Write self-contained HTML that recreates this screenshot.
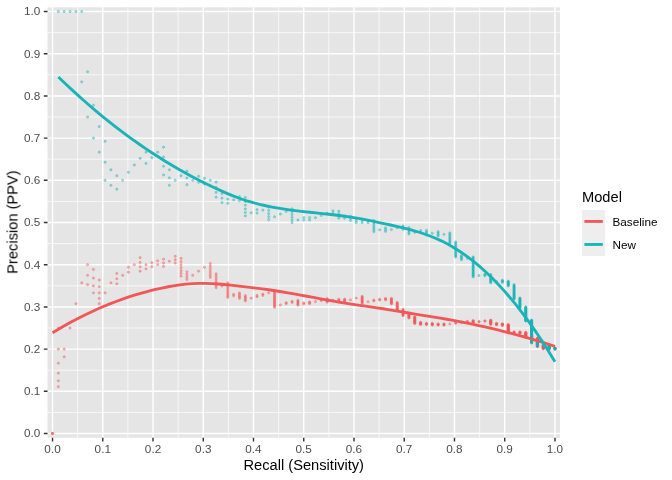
<!DOCTYPE html>
<html><head><meta charset="utf-8"><title>PR curve</title>
<style>html,body{margin:0;padding:0;background:#fff;}svg{display:block;}text{font-family:"Liberation Sans",sans-serif;}</style></head><body>
<svg width="672" height="480" viewBox="0 0 672 480">
<rect x="0" y="0" width="672" height="480" fill="#ffffff"/>
<rect x="47.5" y="7.3" width="512.5" height="430.45" fill="#E5E5E5"/>
<filter id="tf" x="-5%" y="-5%" width="110%" height="110%" color-interpolation-filters="sRGB"><feOffset dx="0" dy="0"/></filter>
<clipPath id="pc"><rect x="47.5" y="7.3" width="512.5" height="430.45"/></clipPath>
<path d="M77.65 7.3V437.75M47.5 412.43H560.0M127.89 7.3V437.75M47.5 370.23H560.0M178.14 7.3V437.75M47.5 328.03H560.0M228.38 7.3V437.75M47.5 285.83H560.0M278.63 7.3V437.75M47.5 243.63H560.0M328.87 7.3V437.75M47.5 201.42H560.0M379.12 7.3V437.75M47.5 159.22H560.0M429.36 7.3V437.75M47.5 117.02H560.0M479.61 7.3V437.75M47.5 74.82H560.0M529.85 7.3V437.75M47.5 32.62H560.0" stroke="#fff" stroke-width="0.71" fill="none"/>
<path d="M52.52 7.3V437.75M47.5 433.53H560.0M102.77 7.3V437.75M47.5 391.33H560.0M153.01 7.3V437.75M47.5 349.13H560.0M203.26 7.3V437.75M47.5 306.93H560.0M253.50 7.3V437.75M47.5 264.73H560.0M303.75 7.3V437.75M47.5 222.52H560.0M354.00 7.3V437.75M47.5 180.32H560.0M404.24 7.3V437.75M47.5 138.12H560.0M454.49 7.3V437.75M47.5 95.92H560.0M504.73 7.3V437.75M47.5 53.72H560.0M554.98 7.3V437.75M47.5 11.52H560.0" stroke="#fff" stroke-width="1.42" fill="none"/>
<g clip-path="url(#pc)">
<g fill="#F25757" fill-opacity="0.4" stroke="#F25757" stroke-opacity="0.4" stroke-width="0.92">
<circle cx="52.52" cy="433.53" r="1.12"/><circle cx="52.52" cy="433.53" r="1.12"/><circle cx="52.52" cy="433.53" r="1.12"/><circle cx="58.37" cy="328.03" r="1.12"/><circle cx="58.37" cy="349.13" r="1.12"/><circle cx="58.37" cy="363.19" r="1.12"/><circle cx="58.37" cy="373.24" r="1.12"/><circle cx="58.37" cy="380.78" r="1.12"/><circle cx="58.37" cy="386.64" r="1.12"/><circle cx="64.21" cy="349.13" r="1.12"/><circle cx="64.21" cy="356.80" r="1.12"/><circle cx="70.05" cy="328.03" r="1.12"/><circle cx="75.89" cy="303.68" r="1.12"/><circle cx="81.74" cy="282.81" r="1.12"/><circle cx="87.58" cy="264.73" r="1.12"/><circle cx="87.58" cy="275.28" r="1.12"/><circle cx="87.58" cy="284.59" r="1.12"/><circle cx="93.42" cy="269.41" r="1.12"/><circle cx="93.42" cy="278.05" r="1.12"/><circle cx="93.42" cy="285.83" r="1.12"/><circle cx="93.42" cy="292.86" r="1.12"/><circle cx="99.26" cy="280.07" r="1.12"/><circle cx="99.26" cy="286.74" r="1.12"/><circle cx="99.26" cy="292.86" r="1.12"/><circle cx="99.26" cy="298.49" r="1.12"/><circle cx="99.26" cy="303.68" r="1.12"/><circle cx="105.11" cy="292.86" r="1.12"/><circle cx="110.95" cy="282.81" r="1.12"/><circle cx="116.79" cy="273.46" r="1.12"/><circle cx="116.79" cy="278.79" r="1.12"/><circle cx="116.79" cy="283.78" r="1.12"/><circle cx="122.63" cy="275.28" r="1.12"/><circle cx="128.48" cy="267.28" r="1.12"/><circle cx="128.48" cy="272.17" r="1.12"/><circle cx="134.32" cy="264.73" r="1.12"/><circle cx="140.16" cy="257.69" r="1.12"/><circle cx="140.16" cy="262.44" r="1.12"/><circle cx="140.16" cy="266.95" r="1.12"/><circle cx="140.16" cy="271.22" r="1.12"/><circle cx="146.00" cy="264.73" r="1.12"/><circle cx="146.00" cy="268.84" r="1.12"/><circle cx="151.85" cy="262.72" r="1.12"/><circle cx="151.85" cy="266.69" r="1.12"/><circle cx="157.69" cy="260.89" r="1.12"/><circle cx="157.69" cy="264.73" r="1.12"/><circle cx="163.53" cy="259.22" r="1.12"/><circle cx="163.53" cy="262.93" r="1.12"/><circle cx="163.53" cy="266.48" r="1.12"/><circle cx="169.37" cy="261.28" r="1.12"/><circle cx="175.22" cy="256.29" r="1.12"/><circle cx="175.22" cy="259.76" r="1.12"/><circle cx="175.22" cy="263.10" r="1.12"/><circle cx="181.06" cy="258.36" r="1.12"/><circle cx="181.06" cy="261.60" r="1.12"/><circle cx="181.06" cy="264.73" r="1.12"/><circle cx="181.06" cy="267.74" r="1.12"/><circle cx="181.06" cy="270.65" r="1.12"/><circle cx="181.06" cy="273.46" r="1.12"/><circle cx="181.06" cy="276.17" r="1.12"/><circle cx="186.90" cy="271.76" r="1.12"/><circle cx="186.90" cy="274.41" r="1.12"/><circle cx="186.90" cy="276.98" r="1.12"/><circle cx="186.90" cy="279.46" r="1.12"/><circle cx="192.74" cy="275.28" r="1.12"/><circle cx="198.59" cy="271.22" r="1.12"/><circle cx="204.43" cy="267.28" r="1.12"/><circle cx="210.27" cy="263.47" r="1.12"/><circle cx="210.27" cy="265.97" r="1.12"/><circle cx="210.27" cy="268.40" r="1.12"/><circle cx="210.27" cy="270.75" r="1.12"/><circle cx="210.27" cy="273.05" r="1.12"/><circle cx="210.27" cy="275.28" r="1.12"/><circle cx="210.27" cy="277.44" r="1.12"/><circle cx="216.11" cy="273.85" r="1.12"/><circle cx="216.11" cy="275.98" r="1.12"/><circle cx="216.11" cy="278.05" r="1.12"/><circle cx="216.11" cy="280.07" r="1.12"/><circle cx="216.11" cy="282.04" r="1.12"/><circle cx="216.11" cy="283.96" r="1.12"/><circle cx="216.11" cy="285.83" r="1.12"/><circle cx="216.11" cy="287.65" r="1.12"/><circle cx="221.96" cy="284.28" r="1.12"/><circle cx="221.96" cy="286.08" r="1.12"/><circle cx="227.80" cy="282.81" r="1.12"/><circle cx="227.80" cy="284.59" r="1.12"/><circle cx="227.80" cy="286.32" r="1.12"/><circle cx="227.80" cy="288.01" r="1.12"/><circle cx="227.80" cy="289.66" r="1.12"/><circle cx="227.80" cy="291.28" r="1.12"/><circle cx="227.80" cy="292.86" r="1.12"/><circle cx="227.80" cy="294.41" r="1.12"/><circle cx="227.80" cy="295.92" r="1.12"/><circle cx="227.80" cy="297.40" r="1.12"/><circle cx="233.64" cy="294.36" r="1.12"/><circle cx="233.64" cy="295.82" r="1.12"/><circle cx="239.48" cy="292.86" r="1.12"/><circle cx="239.48" cy="294.31" r="1.12"/><circle cx="239.48" cy="295.73" r="1.12"/><circle cx="239.48" cy="297.12" r="1.12"/><circle cx="239.48" cy="298.49" r="1.12"/><circle cx="245.33" cy="295.65" r="1.12"/><circle cx="245.33" cy="297.00" r="1.12"/><circle cx="245.33" cy="298.32" r="1.12"/><circle cx="245.33" cy="299.62" r="1.12"/><circle cx="245.33" cy="300.90" r="1.12"/><circle cx="251.17" cy="298.17" r="1.12"/><circle cx="257.01" cy="295.49" r="1.12"/><circle cx="257.01" cy="296.77" r="1.12"/><circle cx="262.85" cy="294.15" r="1.12"/><circle cx="262.85" cy="295.42" r="1.12"/><circle cx="268.70" cy="292.86" r="1.12"/><circle cx="274.54" cy="290.35" r="1.12"/><circle cx="274.54" cy="291.62" r="1.12"/><circle cx="274.54" cy="292.86" r="1.12"/><circle cx="274.54" cy="294.08" r="1.12"/><circle cx="274.54" cy="295.29" r="1.12"/><circle cx="274.54" cy="296.47" r="1.12"/><circle cx="274.54" cy="297.63" r="1.12"/><circle cx="274.54" cy="298.77" r="1.12"/><circle cx="274.54" cy="299.89" r="1.12"/><circle cx="274.54" cy="301.00" r="1.12"/><circle cx="274.54" cy="302.08" r="1.12"/><circle cx="274.54" cy="303.15" r="1.12"/><circle cx="274.54" cy="304.20" r="1.12"/><circle cx="274.54" cy="305.24" r="1.12"/><circle cx="274.54" cy="306.26" r="1.12"/><circle cx="274.54" cy="307.26" r="1.12"/><circle cx="280.38" cy="304.95" r="1.12"/><circle cx="286.22" cy="302.67" r="1.12"/><circle cx="286.22" cy="303.68" r="1.12"/><circle cx="292.07" cy="301.45" r="1.12"/><circle cx="292.07" cy="302.45" r="1.12"/><circle cx="297.91" cy="300.26" r="1.12"/><circle cx="297.91" cy="301.26" r="1.12"/><circle cx="297.91" cy="302.24" r="1.12"/><circle cx="297.91" cy="303.20" r="1.12"/><circle cx="297.91" cy="304.15" r="1.12"/><circle cx="297.91" cy="305.09" r="1.12"/><circle cx="303.75" cy="302.98" r="1.12"/><circle cx="303.75" cy="303.91" r="1.12"/><circle cx="309.59" cy="301.84" r="1.12"/><circle cx="309.59" cy="302.77" r="1.12"/><circle cx="309.59" cy="303.68" r="1.12"/><circle cx="315.43" cy="301.65" r="1.12"/><circle cx="321.28" cy="299.65" r="1.12"/><circle cx="321.28" cy="300.57" r="1.12"/><circle cx="327.12" cy="298.60" r="1.12"/><circle cx="327.12" cy="299.51" r="1.12"/><circle cx="327.12" cy="300.41" r="1.12"/><circle cx="327.12" cy="301.30" r="1.12"/><circle cx="327.12" cy="302.18" r="1.12"/><circle cx="332.96" cy="300.26" r="1.12"/><circle cx="332.96" cy="301.13" r="1.12"/><circle cx="338.80" cy="299.25" r="1.12"/><circle cx="338.80" cy="300.12" r="1.12"/><circle cx="338.80" cy="300.98" r="1.12"/><circle cx="344.65" cy="299.13" r="1.12"/><circle cx="344.65" cy="299.98" r="1.12"/><circle cx="344.65" cy="300.82" r="1.12"/><circle cx="344.65" cy="301.65" r="1.12"/><circle cx="350.49" cy="299.85" r="1.12"/><circle cx="356.33" cy="298.07" r="1.12"/><circle cx="362.17" cy="296.31" r="1.12"/><circle cx="362.17" cy="297.15" r="1.12"/><circle cx="362.17" cy="297.98" r="1.12"/><circle cx="362.17" cy="298.79" r="1.12"/><circle cx="362.17" cy="299.60" r="1.12"/><circle cx="362.17" cy="300.40" r="1.12"/><circle cx="362.17" cy="301.18" r="1.12"/><circle cx="362.17" cy="301.96" r="1.12"/><circle cx="362.17" cy="302.73" r="1.12"/><circle cx="362.17" cy="303.49" r="1.12"/><circle cx="368.02" cy="301.80" r="1.12"/><circle cx="373.86" cy="300.14" r="1.12"/><circle cx="373.86" cy="300.90" r="1.12"/><circle cx="379.70" cy="299.25" r="1.12"/><circle cx="379.70" cy="300.01" r="1.12"/><circle cx="385.54" cy="298.39" r="1.12"/><circle cx="385.54" cy="299.15" r="1.12"/><circle cx="385.54" cy="299.89" r="1.12"/><circle cx="391.39" cy="298.30" r="1.12"/><circle cx="391.39" cy="299.04" r="1.12"/><circle cx="391.39" cy="299.78" r="1.12"/><circle cx="391.39" cy="300.51" r="1.12"/><circle cx="391.39" cy="301.22" r="1.12"/><circle cx="391.39" cy="301.94" r="1.12"/><circle cx="391.39" cy="302.64" r="1.12"/><circle cx="391.39" cy="303.34" r="1.12"/><circle cx="391.39" cy="304.02" r="1.12"/><circle cx="397.23" cy="302.48" r="1.12"/><circle cx="397.23" cy="303.17" r="1.12"/><circle cx="397.23" cy="303.85" r="1.12"/><circle cx="397.23" cy="304.52" r="1.12"/><circle cx="397.23" cy="305.19" r="1.12"/><circle cx="397.23" cy="305.84" r="1.12"/><circle cx="397.23" cy="306.50" r="1.12"/><circle cx="397.23" cy="307.14" r="1.12"/><circle cx="397.23" cy="307.78" r="1.12"/><circle cx="397.23" cy="308.41" r="1.12"/><circle cx="397.23" cy="309.04" r="1.12"/><circle cx="397.23" cy="309.66" r="1.12"/><circle cx="397.23" cy="310.27" r="1.12"/><circle cx="397.23" cy="310.88" r="1.12"/><circle cx="403.07" cy="309.41" r="1.12"/><circle cx="403.07" cy="310.01" r="1.12"/><circle cx="403.07" cy="310.61" r="1.12"/><circle cx="403.07" cy="311.21" r="1.12"/><circle cx="403.07" cy="311.80" r="1.12"/><circle cx="403.07" cy="312.38" r="1.12"/><circle cx="403.07" cy="312.96" r="1.12"/><circle cx="403.07" cy="313.53" r="1.12"/><circle cx="403.07" cy="314.09" r="1.12"/><circle cx="403.07" cy="314.65" r="1.12"/><circle cx="403.07" cy="315.21" r="1.12"/><circle cx="403.07" cy="315.76" r="1.12"/><circle cx="408.91" cy="314.35" r="1.12"/><circle cx="408.91" cy="314.90" r="1.12"/><circle cx="408.91" cy="315.44" r="1.12"/><circle cx="408.91" cy="315.98" r="1.12"/><circle cx="408.91" cy="316.52" r="1.12"/><circle cx="408.91" cy="317.05" r="1.12"/><circle cx="408.91" cy="317.57" r="1.12"/><circle cx="408.91" cy="318.09" r="1.12"/><circle cx="414.76" cy="316.72" r="1.12"/><circle cx="414.76" cy="317.24" r="1.12"/><circle cx="414.76" cy="317.76" r="1.12"/><circle cx="414.76" cy="318.27" r="1.12"/><circle cx="414.76" cy="318.77" r="1.12"/><circle cx="414.76" cy="319.27" r="1.12"/><circle cx="414.76" cy="319.77" r="1.12"/><circle cx="414.76" cy="320.26" r="1.12"/><circle cx="414.76" cy="320.75" r="1.12"/><circle cx="414.76" cy="321.24" r="1.12"/><circle cx="414.76" cy="321.72" r="1.12"/><circle cx="414.76" cy="322.19" r="1.12"/><circle cx="414.76" cy="322.66" r="1.12"/><circle cx="414.76" cy="323.13" r="1.12"/><circle cx="414.76" cy="323.59" r="1.12"/><circle cx="420.60" cy="322.29" r="1.12"/><circle cx="420.60" cy="322.75" r="1.12"/><circle cx="420.60" cy="323.21" r="1.12"/><circle cx="420.60" cy="323.67" r="1.12"/><circle cx="420.60" cy="324.12" r="1.12"/><circle cx="420.60" cy="324.57" r="1.12"/><circle cx="426.44" cy="323.29" r="1.12"/><circle cx="426.44" cy="323.74" r="1.12"/><circle cx="426.44" cy="324.18" r="1.12"/><circle cx="426.44" cy="324.62" r="1.12"/><circle cx="432.28" cy="323.37" r="1.12"/><circle cx="432.28" cy="323.81" r="1.12"/><circle cx="432.28" cy="324.24" r="1.12"/><circle cx="432.28" cy="324.68" r="1.12"/><circle cx="432.28" cy="325.11" r="1.12"/><circle cx="438.13" cy="323.87" r="1.12"/><circle cx="438.13" cy="324.30" r="1.12"/><circle cx="438.13" cy="324.73" r="1.12"/><circle cx="438.13" cy="325.15" r="1.12"/><circle cx="443.97" cy="323.94" r="1.12"/><circle cx="443.97" cy="324.36" r="1.12"/><circle cx="443.97" cy="324.78" r="1.12"/><circle cx="443.97" cy="325.20" r="1.12"/><circle cx="449.81" cy="324.00" r="1.12"/><circle cx="455.65" cy="322.81" r="1.12"/><circle cx="455.65" cy="323.23" r="1.12"/><circle cx="461.50" cy="322.06" r="1.12"/><circle cx="461.50" cy="322.47" r="1.12"/><circle cx="467.34" cy="321.31" r="1.12"/><circle cx="467.34" cy="321.73" r="1.12"/><circle cx="473.18" cy="320.58" r="1.12"/><circle cx="473.18" cy="320.99" r="1.12"/><circle cx="473.18" cy="321.41" r="1.12"/><circle cx="473.18" cy="321.82" r="1.12"/><circle cx="473.18" cy="322.23" r="1.12"/><circle cx="473.18" cy="322.64" r="1.12"/><circle cx="479.02" cy="321.51" r="1.12"/><circle cx="479.02" cy="321.91" r="1.12"/><circle cx="484.87" cy="320.79" r="1.12"/><circle cx="484.87" cy="321.20" r="1.12"/><circle cx="490.71" cy="320.09" r="1.12"/><circle cx="490.71" cy="320.49" r="1.12"/><circle cx="490.71" cy="320.89" r="1.12"/><circle cx="490.71" cy="321.29" r="1.12"/><circle cx="490.71" cy="321.69" r="1.12"/><circle cx="490.71" cy="322.08" r="1.12"/><circle cx="490.71" cy="322.47" r="1.12"/><circle cx="490.71" cy="322.86" r="1.12"/><circle cx="490.71" cy="323.25" r="1.12"/><circle cx="490.71" cy="323.63" r="1.12"/><circle cx="490.71" cy="324.01" r="1.12"/><circle cx="490.71" cy="324.39" r="1.12"/><circle cx="496.55" cy="323.31" r="1.12"/><circle cx="496.55" cy="323.69" r="1.12"/><circle cx="496.55" cy="324.07" r="1.12"/><circle cx="496.55" cy="324.44" r="1.12"/><circle cx="496.55" cy="324.81" r="1.12"/><circle cx="502.39" cy="323.75" r="1.12"/><circle cx="502.39" cy="324.12" r="1.12"/><circle cx="502.39" cy="324.49" r="1.12"/><circle cx="502.39" cy="324.85" r="1.12"/><circle cx="502.39" cy="325.21" r="1.12"/><circle cx="502.39" cy="325.57" r="1.12"/><circle cx="508.24" cy="324.53" r="1.12"/><circle cx="508.24" cy="324.89" r="1.12"/><circle cx="508.24" cy="325.25" r="1.12"/><circle cx="508.24" cy="325.61" r="1.12"/><circle cx="508.24" cy="325.96" r="1.12"/><circle cx="508.24" cy="326.31" r="1.12"/><circle cx="508.24" cy="326.66" r="1.12"/><circle cx="508.24" cy="327.00" r="1.12"/><circle cx="508.24" cy="327.35" r="1.12"/><circle cx="508.24" cy="327.69" r="1.12"/><circle cx="508.24" cy="328.03" r="1.12"/><circle cx="508.24" cy="328.36" r="1.12"/><circle cx="508.24" cy="328.70" r="1.12"/><circle cx="508.24" cy="329.03" r="1.12"/><circle cx="508.24" cy="329.36" r="1.12"/><circle cx="508.24" cy="329.69" r="1.12"/><circle cx="508.24" cy="330.02" r="1.12"/><circle cx="508.24" cy="330.34" r="1.12"/><circle cx="508.24" cy="330.67" r="1.12"/><circle cx="508.24" cy="330.99" r="1.12"/><circle cx="508.24" cy="331.30" r="1.12"/><circle cx="508.24" cy="331.62" r="1.12"/><circle cx="508.24" cy="331.93" r="1.12"/><circle cx="508.24" cy="332.25" r="1.12"/><circle cx="508.24" cy="332.56" r="1.12"/><circle cx="508.24" cy="332.87" r="1.12"/><circle cx="514.08" cy="331.89" r="1.12"/><circle cx="514.08" cy="332.20" r="1.12"/><circle cx="514.08" cy="332.50" r="1.12"/><circle cx="514.08" cy="332.81" r="1.12"/><circle cx="519.92" cy="331.84" r="1.12"/><circle cx="519.92" cy="332.15" r="1.12"/><circle cx="519.92" cy="332.45" r="1.12"/><circle cx="519.92" cy="332.75" r="1.12"/><circle cx="519.92" cy="333.05" r="1.12"/><circle cx="519.92" cy="333.35" r="1.12"/><circle cx="525.76" cy="332.40" r="1.12"/><circle cx="525.76" cy="332.70" r="1.12"/><circle cx="525.76" cy="332.99" r="1.12"/><circle cx="525.76" cy="333.29" r="1.12"/><circle cx="525.76" cy="333.58" r="1.12"/><circle cx="525.76" cy="333.87" r="1.12"/><circle cx="525.76" cy="334.16" r="1.12"/><circle cx="525.76" cy="334.45" r="1.12"/><circle cx="525.76" cy="334.74" r="1.12"/><circle cx="525.76" cy="335.02" r="1.12"/><circle cx="525.76" cy="335.30" r="1.12"/><circle cx="525.76" cy="335.58" r="1.12"/><circle cx="525.76" cy="335.86" r="1.12"/><circle cx="525.76" cy="336.14" r="1.12"/><circle cx="525.76" cy="336.42" r="1.12"/><circle cx="525.76" cy="336.69" r="1.12"/><circle cx="525.76" cy="336.97" r="1.12"/><circle cx="525.76" cy="337.24" r="1.12"/><circle cx="525.76" cy="337.51" r="1.12"/><circle cx="531.61" cy="336.60" r="1.12"/><circle cx="531.61" cy="336.87" r="1.12"/><circle cx="531.61" cy="337.14" r="1.12"/><circle cx="531.61" cy="337.41" r="1.12"/><circle cx="531.61" cy="337.67" r="1.12"/><circle cx="531.61" cy="337.94" r="1.12"/><circle cx="531.61" cy="338.20" r="1.12"/><circle cx="531.61" cy="338.46" r="1.12"/><circle cx="531.61" cy="338.72" r="1.12"/><circle cx="531.61" cy="338.98" r="1.12"/><circle cx="537.45" cy="338.09" r="1.12"/><circle cx="537.45" cy="338.35" r="1.12"/><circle cx="537.45" cy="338.61" r="1.12"/><circle cx="537.45" cy="338.86" r="1.12"/><circle cx="537.45" cy="339.12" r="1.12"/><circle cx="537.45" cy="339.37" r="1.12"/><circle cx="537.45" cy="339.62" r="1.12"/><circle cx="537.45" cy="339.88" r="1.12"/><circle cx="537.45" cy="340.13" r="1.12"/><circle cx="537.45" cy="340.37" r="1.12"/><circle cx="537.45" cy="340.62" r="1.12"/><circle cx="537.45" cy="340.87" r="1.12"/><circle cx="537.45" cy="341.11" r="1.12"/><circle cx="537.45" cy="341.35" r="1.12"/><circle cx="537.45" cy="341.60" r="1.12"/><circle cx="537.45" cy="341.84" r="1.12"/><circle cx="537.45" cy="342.08" r="1.12"/><circle cx="537.45" cy="342.31" r="1.12"/><circle cx="537.45" cy="342.55" r="1.12"/><circle cx="537.45" cy="342.79" r="1.12"/><circle cx="537.45" cy="343.02" r="1.12"/><circle cx="537.45" cy="343.25" r="1.12"/><circle cx="537.45" cy="343.49" r="1.12"/><circle cx="537.45" cy="343.72" r="1.12"/><circle cx="537.45" cy="343.95" r="1.12"/><circle cx="537.45" cy="344.18" r="1.12"/><circle cx="537.45" cy="344.40" r="1.12"/><circle cx="537.45" cy="344.63" r="1.12"/><circle cx="537.45" cy="344.85" r="1.12"/><circle cx="537.45" cy="345.08" r="1.12"/><circle cx="537.45" cy="345.30" r="1.12"/><circle cx="537.45" cy="345.52" r="1.12"/><circle cx="537.45" cy="345.74" r="1.12"/><circle cx="537.45" cy="345.96" r="1.12"/><circle cx="537.45" cy="346.18" r="1.12"/><circle cx="537.45" cy="346.40" r="1.12"/><circle cx="537.45" cy="346.61" r="1.12"/><circle cx="543.29" cy="345.79" r="1.12"/><circle cx="543.29" cy="346.00" r="1.12"/><circle cx="543.29" cy="346.22" r="1.12"/><circle cx="543.29" cy="346.43" r="1.12"/><circle cx="543.29" cy="346.65" r="1.12"/><circle cx="543.29" cy="346.86" r="1.12"/><circle cx="543.29" cy="347.07" r="1.12"/><circle cx="543.29" cy="347.28" r="1.12"/><circle cx="543.29" cy="347.49" r="1.12"/><circle cx="543.29" cy="347.70" r="1.12"/><circle cx="543.29" cy="347.90" r="1.12"/><circle cx="543.29" cy="348.11" r="1.12"/><circle cx="543.29" cy="348.32" r="1.12"/><circle cx="543.29" cy="348.52" r="1.12"/><circle cx="543.29" cy="348.72" r="1.12"/><circle cx="549.13" cy="347.92" r="1.12"/><circle cx="549.13" cy="348.12" r="1.12"/><circle cx="549.13" cy="348.33" r="1.12"/><circle cx="549.13" cy="348.53" r="1.12"/><circle cx="549.13" cy="348.73" r="1.12"/><circle cx="549.13" cy="348.93" r="1.12"/><circle cx="549.13" cy="349.13" r="1.12"/><circle cx="554.98" cy="348.34" r="1.12"/><circle cx="554.98" cy="348.53" r="1.12"/><circle cx="554.98" cy="348.73" r="1.12"/><circle cx="554.98" cy="348.93" r="1.12"/><circle cx="554.98" cy="349.13" r="1.12"/>
</g>
<g fill="#1AB3B8" fill-opacity="0.4" stroke="#1AB3B8" stroke-opacity="0.4" stroke-width="0.92">
<circle cx="58.37" cy="11.52" r="1.12"/><circle cx="64.21" cy="11.52" r="1.12"/><circle cx="70.05" cy="11.52" r="1.12"/><circle cx="75.89" cy="11.52" r="1.12"/><circle cx="81.74" cy="11.52" r="1.12"/><circle cx="81.74" cy="81.86" r="1.12"/><circle cx="87.58" cy="71.81" r="1.12"/><circle cx="87.58" cy="117.02" r="1.12"/><circle cx="93.42" cy="105.30" r="1.12"/><circle cx="93.42" cy="138.12" r="1.12"/><circle cx="99.26" cy="126.61" r="1.12"/><circle cx="99.26" cy="152.19" r="1.12"/><circle cx="105.11" cy="141.37" r="1.12"/><circle cx="105.11" cy="162.24" r="1.12"/><circle cx="105.11" cy="180.32" r="1.12"/><circle cx="110.95" cy="169.77" r="1.12"/><circle cx="110.95" cy="185.29" r="1.12"/><circle cx="116.79" cy="175.64" r="1.12"/><circle cx="116.79" cy="189.21" r="1.12"/><circle cx="122.63" cy="180.32" r="1.12"/><circle cx="128.48" cy="172.29" r="1.12"/><circle cx="134.32" cy="164.98" r="1.12"/><circle cx="140.16" cy="158.31" r="1.12"/><circle cx="146.00" cy="152.19" r="1.12"/><circle cx="146.00" cy="163.44" r="1.12"/><circle cx="151.85" cy="157.60" r="1.12"/><circle cx="157.69" cy="152.19" r="1.12"/><circle cx="163.53" cy="147.17" r="1.12"/><circle cx="163.53" cy="157.04" r="1.12"/><circle cx="163.53" cy="166.26" r="1.12"/><circle cx="163.53" cy="174.88" r="1.12"/><circle cx="169.37" cy="169.77" r="1.12"/><circle cx="169.37" cy="177.77" r="1.12"/><circle cx="169.37" cy="185.29" r="1.12"/><circle cx="175.22" cy="180.32" r="1.12"/><circle cx="181.06" cy="175.64" r="1.12"/><circle cx="186.90" cy="171.20" r="1.12"/><circle cx="186.90" cy="178.10" r="1.12"/><circle cx="186.90" cy="184.65" r="1.12"/><circle cx="192.74" cy="180.32" r="1.12"/><circle cx="198.59" cy="176.21" r="1.12"/><circle cx="198.59" cy="182.33" r="1.12"/><circle cx="204.43" cy="178.36" r="1.12"/><circle cx="204.43" cy="184.16" r="1.12"/><circle cx="210.27" cy="180.32" r="1.12"/><circle cx="210.27" cy="185.83" r="1.12"/><circle cx="216.11" cy="182.12" r="1.12"/><circle cx="216.11" cy="187.36" r="1.12"/><circle cx="216.11" cy="192.38" r="1.12"/><circle cx="216.11" cy="197.20" r="1.12"/><circle cx="221.96" cy="193.56" r="1.12"/><circle cx="221.96" cy="198.18" r="1.12"/><circle cx="221.96" cy="202.62" r="1.12"/><circle cx="227.80" cy="199.08" r="1.12"/><circle cx="227.80" cy="203.34" r="1.12"/><circle cx="233.64" cy="199.92" r="1.12"/><circle cx="239.48" cy="196.61" r="1.12"/><circle cx="239.48" cy="200.70" r="1.12"/><circle cx="245.33" cy="197.49" r="1.12"/><circle cx="245.33" cy="201.42" r="1.12"/><circle cx="245.33" cy="205.23" r="1.12"/><circle cx="245.33" cy="208.91" r="1.12"/><circle cx="245.33" cy="212.48" r="1.12"/><circle cx="245.33" cy="215.93" r="1.12"/><circle cx="251.17" cy="212.79" r="1.12"/><circle cx="257.01" cy="209.74" r="1.12"/><circle cx="257.01" cy="213.08" r="1.12"/><circle cx="262.85" cy="210.11" r="1.12"/><circle cx="268.70" cy="207.23" r="1.12"/><circle cx="268.70" cy="210.47" r="1.12"/><circle cx="268.70" cy="213.61" r="1.12"/><circle cx="268.70" cy="216.66" r="1.12"/><circle cx="268.70" cy="219.63" r="1.12"/><circle cx="274.54" cy="216.82" r="1.12"/><circle cx="280.38" cy="214.08" r="1.12"/><circle cx="286.22" cy="211.42" r="1.12"/><circle cx="292.07" cy="208.82" r="1.12"/><circle cx="292.07" cy="211.70" r="1.12"/><circle cx="292.07" cy="214.51" r="1.12"/><circle cx="292.07" cy="217.25" r="1.12"/><circle cx="292.07" cy="219.92" r="1.12"/><circle cx="292.07" cy="222.52" r="1.12"/><circle cx="297.91" cy="219.98" r="1.12"/><circle cx="303.75" cy="217.50" r="1.12"/><circle cx="303.75" cy="220.04" r="1.12"/><circle cx="309.59" cy="217.62" r="1.12"/><circle cx="309.59" cy="220.10" r="1.12"/><circle cx="315.43" cy="217.73" r="1.12"/><circle cx="321.28" cy="215.41" r="1.12"/><circle cx="327.12" cy="213.15" r="1.12"/><circle cx="332.96" cy="210.93" r="1.12"/><circle cx="332.96" cy="213.35" r="1.12"/><circle cx="338.80" cy="211.18" r="1.12"/><circle cx="338.80" cy="213.55" r="1.12"/><circle cx="338.80" cy="215.86" r="1.12"/><circle cx="338.80" cy="218.13" r="1.12"/><circle cx="344.65" cy="216.00" r="1.12"/><circle cx="344.65" cy="218.22" r="1.12"/><circle cx="350.49" cy="216.13" r="1.12"/><circle cx="350.49" cy="218.30" r="1.12"/><circle cx="350.49" cy="220.44" r="1.12"/><circle cx="356.33" cy="218.39" r="1.12"/><circle cx="356.33" cy="220.48" r="1.12"/><circle cx="356.33" cy="222.52" r="1.12"/><circle cx="362.17" cy="220.52" r="1.12"/><circle cx="362.17" cy="222.52" r="1.12"/><circle cx="368.02" cy="220.55" r="1.12"/><circle cx="368.02" cy="222.52" r="1.12"/><circle cx="373.86" cy="220.59" r="1.12"/><circle cx="373.86" cy="222.52" r="1.12"/><circle cx="373.86" cy="224.43" r="1.12"/><circle cx="373.86" cy="226.29" r="1.12"/><circle cx="373.86" cy="228.13" r="1.12"/><circle cx="373.86" cy="229.93" r="1.12"/><circle cx="373.86" cy="231.70" r="1.12"/><circle cx="379.70" cy="229.80" r="1.12"/><circle cx="385.54" cy="227.94" r="1.12"/><circle cx="385.54" cy="229.68" r="1.12"/><circle cx="385.54" cy="231.39" r="1.12"/><circle cx="391.39" cy="229.56" r="1.12"/><circle cx="397.23" cy="227.76" r="1.12"/><circle cx="403.07" cy="225.98" r="1.12"/><circle cx="403.07" cy="227.67" r="1.12"/><circle cx="403.07" cy="229.33" r="1.12"/><circle cx="408.91" cy="227.59" r="1.12"/><circle cx="408.91" cy="229.22" r="1.12"/><circle cx="408.91" cy="230.83" r="1.12"/><circle cx="408.91" cy="232.42" r="1.12"/><circle cx="408.91" cy="233.97" r="1.12"/><circle cx="414.76" cy="232.26" r="1.12"/><circle cx="420.60" cy="230.58" r="1.12"/><circle cx="420.60" cy="232.12" r="1.12"/><circle cx="426.44" cy="230.46" r="1.12"/><circle cx="426.44" cy="231.97" r="1.12"/><circle cx="426.44" cy="233.47" r="1.12"/><circle cx="426.44" cy="234.94" r="1.12"/><circle cx="432.28" cy="233.31" r="1.12"/><circle cx="438.13" cy="231.70" r="1.12"/><circle cx="438.13" cy="233.15" r="1.12"/><circle cx="438.13" cy="234.58" r="1.12"/><circle cx="438.13" cy="235.99" r="1.12"/><circle cx="443.97" cy="234.41" r="1.12"/><circle cx="449.81" cy="232.85" r="1.12"/><circle cx="449.81" cy="234.25" r="1.12"/><circle cx="449.81" cy="235.62" r="1.12"/><circle cx="449.81" cy="236.98" r="1.12"/><circle cx="449.81" cy="238.31" r="1.12"/><circle cx="449.81" cy="239.63" r="1.12"/><circle cx="449.81" cy="240.93" r="1.12"/><circle cx="449.81" cy="242.22" r="1.12"/><circle cx="449.81" cy="243.49" r="1.12"/><circle cx="455.65" cy="241.96" r="1.12"/><circle cx="455.65" cy="243.21" r="1.12"/><circle cx="455.65" cy="244.45" r="1.12"/><circle cx="455.65" cy="245.67" r="1.12"/><circle cx="455.65" cy="246.87" r="1.12"/><circle cx="455.65" cy="248.06" r="1.12"/><circle cx="455.65" cy="249.23" r="1.12"/><circle cx="455.65" cy="250.39" r="1.12"/><circle cx="455.65" cy="251.54" r="1.12"/><circle cx="455.65" cy="252.67" r="1.12"/><circle cx="455.65" cy="253.78" r="1.12"/><circle cx="455.65" cy="254.89" r="1.12"/><circle cx="455.65" cy="255.98" r="1.12"/><circle cx="455.65" cy="257.05" r="1.12"/><circle cx="461.50" cy="255.57" r="1.12"/><circle cx="461.50" cy="256.64" r="1.12"/><circle cx="461.50" cy="257.69" r="1.12"/><circle cx="461.50" cy="258.73" r="1.12"/><circle cx="461.50" cy="259.76" r="1.12"/><circle cx="467.34" cy="258.31" r="1.12"/><circle cx="473.18" cy="256.87" r="1.12"/><circle cx="473.18" cy="257.90" r="1.12"/><circle cx="473.18" cy="258.91" r="1.12"/><circle cx="473.18" cy="259.90" r="1.12"/><circle cx="473.18" cy="260.89" r="1.12"/><circle cx="473.18" cy="261.86" r="1.12"/><circle cx="473.18" cy="262.83" r="1.12"/><circle cx="473.18" cy="263.78" r="1.12"/><circle cx="473.18" cy="264.73" r="1.12"/><circle cx="473.18" cy="265.66" r="1.12"/><circle cx="473.18" cy="266.58" r="1.12"/><circle cx="473.18" cy="267.49" r="1.12"/><circle cx="473.18" cy="268.40" r="1.12"/><circle cx="473.18" cy="269.29" r="1.12"/><circle cx="473.18" cy="270.17" r="1.12"/><circle cx="473.18" cy="271.04" r="1.12"/><circle cx="473.18" cy="271.91" r="1.12"/><circle cx="473.18" cy="272.76" r="1.12"/><circle cx="473.18" cy="273.61" r="1.12"/><circle cx="473.18" cy="274.45" r="1.12"/><circle cx="473.18" cy="275.28" r="1.12"/><circle cx="473.18" cy="276.10" r="1.12"/><circle cx="473.18" cy="276.91" r="1.12"/><circle cx="479.02" cy="275.55" r="1.12"/><circle cx="484.87" cy="274.20" r="1.12"/><circle cx="484.87" cy="275.01" r="1.12"/><circle cx="484.87" cy="275.81" r="1.12"/><circle cx="490.71" cy="274.48" r="1.12"/><circle cx="490.71" cy="275.28" r="1.12"/><circle cx="490.71" cy="276.06" r="1.12"/><circle cx="490.71" cy="276.84" r="1.12"/><circle cx="490.71" cy="277.61" r="1.12"/><circle cx="490.71" cy="278.38" r="1.12"/><circle cx="490.71" cy="279.14" r="1.12"/><circle cx="490.71" cy="279.89" r="1.12"/><circle cx="490.71" cy="280.63" r="1.12"/><circle cx="490.71" cy="281.36" r="1.12"/><circle cx="490.71" cy="282.09" r="1.12"/><circle cx="490.71" cy="282.81" r="1.12"/><circle cx="496.55" cy="281.53" r="1.12"/><circle cx="502.39" cy="280.25" r="1.12"/><circle cx="502.39" cy="280.97" r="1.12"/><circle cx="502.39" cy="281.69" r="1.12"/><circle cx="502.39" cy="282.39" r="1.12"/><circle cx="508.24" cy="281.14" r="1.12"/><circle cx="508.24" cy="281.84" r="1.12"/><circle cx="508.24" cy="282.54" r="1.12"/><circle cx="508.24" cy="283.23" r="1.12"/><circle cx="508.24" cy="283.91" r="1.12"/><circle cx="508.24" cy="284.59" r="1.12"/><circle cx="508.24" cy="285.26" r="1.12"/><circle cx="508.24" cy="285.92" r="1.12"/><circle cx="514.08" cy="284.70" r="1.12"/><circle cx="514.08" cy="285.36" r="1.12"/><circle cx="514.08" cy="286.01" r="1.12"/><circle cx="514.08" cy="286.66" r="1.12"/><circle cx="514.08" cy="287.31" r="1.12"/><circle cx="514.08" cy="287.95" r="1.12"/><circle cx="514.08" cy="288.58" r="1.12"/><circle cx="514.08" cy="289.21" r="1.12"/><circle cx="514.08" cy="289.83" r="1.12"/><circle cx="514.08" cy="290.45" r="1.12"/><circle cx="514.08" cy="291.06" r="1.12"/><circle cx="514.08" cy="291.66" r="1.12"/><circle cx="514.08" cy="292.26" r="1.12"/><circle cx="514.08" cy="292.86" r="1.12"/><circle cx="514.08" cy="293.45" r="1.12"/><circle cx="514.08" cy="294.04" r="1.12"/><circle cx="514.08" cy="294.62" r="1.12"/><circle cx="514.08" cy="295.19" r="1.12"/><circle cx="514.08" cy="295.77" r="1.12"/><circle cx="514.08" cy="296.33" r="1.12"/><circle cx="514.08" cy="296.90" r="1.12"/><circle cx="514.08" cy="297.45" r="1.12"/><circle cx="514.08" cy="298.01" r="1.12"/><circle cx="514.08" cy="298.56" r="1.12"/><circle cx="514.08" cy="299.10" r="1.12"/><circle cx="519.92" cy="297.94" r="1.12"/><circle cx="519.92" cy="298.49" r="1.12"/><circle cx="519.92" cy="299.02" r="1.12"/><circle cx="519.92" cy="299.56" r="1.12"/><circle cx="519.92" cy="300.09" r="1.12"/><circle cx="519.92" cy="300.61" r="1.12"/><circle cx="519.92" cy="301.13" r="1.12"/><circle cx="519.92" cy="301.65" r="1.12"/><circle cx="519.92" cy="302.16" r="1.12"/><circle cx="519.92" cy="302.67" r="1.12"/><circle cx="519.92" cy="303.18" r="1.12"/><circle cx="519.92" cy="303.68" r="1.12"/><circle cx="519.92" cy="304.18" r="1.12"/><circle cx="519.92" cy="304.67" r="1.12"/><circle cx="519.92" cy="305.16" r="1.12"/><circle cx="519.92" cy="305.65" r="1.12"/><circle cx="519.92" cy="306.13" r="1.12"/><circle cx="519.92" cy="306.61" r="1.12"/><circle cx="519.92" cy="307.09" r="1.12"/><circle cx="519.92" cy="307.56" r="1.12"/><circle cx="519.92" cy="308.03" r="1.12"/><circle cx="525.76" cy="306.93" r="1.12"/><circle cx="525.76" cy="307.39" r="1.12"/><circle cx="525.76" cy="307.86" r="1.12"/><circle cx="525.76" cy="308.32" r="1.12"/><circle cx="525.76" cy="308.78" r="1.12"/><circle cx="525.76" cy="309.23" r="1.12"/><circle cx="525.76" cy="309.68" r="1.12"/><circle cx="525.76" cy="310.13" r="1.12"/><circle cx="525.76" cy="310.57" r="1.12"/><circle cx="525.76" cy="311.01" r="1.12"/><circle cx="525.76" cy="311.45" r="1.12"/><circle cx="525.76" cy="311.88" r="1.12"/><circle cx="525.76" cy="312.31" r="1.12"/><circle cx="525.76" cy="312.74" r="1.12"/><circle cx="525.76" cy="313.17" r="1.12"/><circle cx="525.76" cy="313.59" r="1.12"/><circle cx="525.76" cy="314.01" r="1.12"/><circle cx="525.76" cy="314.43" r="1.12"/><circle cx="525.76" cy="314.84" r="1.12"/><circle cx="525.76" cy="315.25" r="1.12"/><circle cx="525.76" cy="315.66" r="1.12"/><circle cx="525.76" cy="316.06" r="1.12"/><circle cx="525.76" cy="316.47" r="1.12"/><circle cx="525.76" cy="316.87" r="1.12"/><circle cx="525.76" cy="317.26" r="1.12"/><circle cx="525.76" cy="317.66" r="1.12"/><circle cx="525.76" cy="318.05" r="1.12"/><circle cx="525.76" cy="318.44" r="1.12"/><circle cx="525.76" cy="318.82" r="1.12"/><circle cx="525.76" cy="319.21" r="1.12"/><circle cx="525.76" cy="319.59" r="1.12"/><circle cx="525.76" cy="319.97" r="1.12"/><circle cx="525.76" cy="320.34" r="1.12"/><circle cx="525.76" cy="320.72" r="1.12"/><circle cx="525.76" cy="321.09" r="1.12"/><circle cx="531.61" cy="320.07" r="1.12"/><circle cx="531.61" cy="320.44" r="1.12"/><circle cx="531.61" cy="320.81" r="1.12"/><circle cx="531.61" cy="321.18" r="1.12"/><circle cx="531.61" cy="321.54" r="1.12"/><circle cx="531.61" cy="321.90" r="1.12"/><circle cx="531.61" cy="322.26" r="1.12"/><circle cx="531.61" cy="322.62" r="1.12"/><circle cx="531.61" cy="322.97" r="1.12"/><circle cx="531.61" cy="323.32" r="1.12"/><circle cx="531.61" cy="323.67" r="1.12"/><circle cx="531.61" cy="324.02" r="1.12"/><circle cx="531.61" cy="324.37" r="1.12"/><circle cx="531.61" cy="324.71" r="1.12"/><circle cx="531.61" cy="325.05" r="1.12"/><circle cx="531.61" cy="325.39" r="1.12"/><circle cx="531.61" cy="325.73" r="1.12"/><circle cx="531.61" cy="326.06" r="1.12"/><circle cx="531.61" cy="326.39" r="1.12"/><circle cx="531.61" cy="326.72" r="1.12"/><circle cx="531.61" cy="327.05" r="1.12"/><circle cx="531.61" cy="327.38" r="1.12"/><circle cx="531.61" cy="327.70" r="1.12"/><circle cx="531.61" cy="328.03" r="1.12"/><circle cx="531.61" cy="328.35" r="1.12"/><circle cx="531.61" cy="328.67" r="1.12"/><circle cx="531.61" cy="328.98" r="1.12"/><circle cx="531.61" cy="329.30" r="1.12"/><circle cx="531.61" cy="329.61" r="1.12"/><circle cx="531.61" cy="329.92" r="1.12"/><circle cx="531.61" cy="330.23" r="1.12"/><circle cx="531.61" cy="330.54" r="1.12"/><circle cx="531.61" cy="330.85" r="1.12"/><circle cx="531.61" cy="331.15" r="1.12"/><circle cx="531.61" cy="331.45" r="1.12"/><circle cx="531.61" cy="331.75" r="1.12"/><circle cx="531.61" cy="332.05" r="1.12"/><circle cx="531.61" cy="332.35" r="1.12"/><circle cx="531.61" cy="332.64" r="1.12"/><circle cx="531.61" cy="332.93" r="1.12"/><circle cx="531.61" cy="333.23" r="1.12"/><circle cx="531.61" cy="333.52" r="1.12"/><circle cx="531.61" cy="333.80" r="1.12"/><circle cx="531.61" cy="334.09" r="1.12"/><circle cx="531.61" cy="334.38" r="1.12"/><circle cx="531.61" cy="334.66" r="1.12"/><circle cx="531.61" cy="334.94" r="1.12"/><circle cx="531.61" cy="335.22" r="1.12"/><circle cx="531.61" cy="335.50" r="1.12"/><circle cx="531.61" cy="335.78" r="1.12"/><circle cx="531.61" cy="336.05" r="1.12"/><circle cx="531.61" cy="336.33" r="1.12"/><circle cx="531.61" cy="336.60" r="1.12"/><circle cx="531.61" cy="336.87" r="1.12"/><circle cx="531.61" cy="337.14" r="1.12"/><circle cx="531.61" cy="337.41" r="1.12"/><circle cx="531.61" cy="337.67" r="1.12"/><circle cx="531.61" cy="337.94" r="1.12"/><circle cx="531.61" cy="338.20" r="1.12"/><circle cx="531.61" cy="338.46" r="1.12"/><circle cx="531.61" cy="338.72" r="1.12"/><circle cx="531.61" cy="338.98" r="1.12"/><circle cx="531.61" cy="339.24" r="1.12"/><circle cx="531.61" cy="339.50" r="1.12"/><circle cx="531.61" cy="339.75" r="1.12"/><circle cx="531.61" cy="340.00" r="1.12"/><circle cx="531.61" cy="340.26" r="1.12"/><circle cx="531.61" cy="340.51" r="1.12"/><circle cx="531.61" cy="340.76" r="1.12"/><circle cx="531.61" cy="341.00" r="1.12"/><circle cx="531.61" cy="341.25" r="1.12"/><circle cx="531.61" cy="341.50" r="1.12"/><circle cx="531.61" cy="341.74" r="1.12"/><circle cx="531.61" cy="341.98" r="1.12"/><circle cx="531.61" cy="342.22" r="1.12"/><circle cx="531.61" cy="342.46" r="1.12"/><circle cx="531.61" cy="342.70" r="1.12"/><circle cx="531.61" cy="342.94" r="1.12"/><circle cx="537.45" cy="342.08" r="1.12"/><circle cx="537.45" cy="342.31" r="1.12"/><circle cx="537.45" cy="342.55" r="1.12"/><circle cx="537.45" cy="342.79" r="1.12"/><circle cx="537.45" cy="343.02" r="1.12"/><circle cx="537.45" cy="343.25" r="1.12"/><circle cx="537.45" cy="343.49" r="1.12"/><circle cx="537.45" cy="343.72" r="1.12"/><circle cx="537.45" cy="343.95" r="1.12"/><circle cx="537.45" cy="344.18" r="1.12"/><circle cx="537.45" cy="344.40" r="1.12"/><circle cx="537.45" cy="344.63" r="1.12"/><circle cx="537.45" cy="344.85" r="1.12"/><circle cx="537.45" cy="345.08" r="1.12"/><circle cx="537.45" cy="345.30" r="1.12"/><circle cx="537.45" cy="345.52" r="1.12"/><circle cx="537.45" cy="345.74" r="1.12"/><circle cx="543.29" cy="344.91" r="1.12"/><circle cx="543.29" cy="345.13" r="1.12"/><circle cx="543.29" cy="345.35" r="1.12"/><circle cx="549.13" cy="344.52" r="1.12"/><circle cx="549.13" cy="344.74" r="1.12"/><circle cx="549.13" cy="344.96" r="1.12"/><circle cx="549.13" cy="345.18" r="1.12"/><circle cx="549.13" cy="345.40" r="1.12"/><circle cx="549.13" cy="345.61" r="1.12"/><circle cx="549.13" cy="345.83" r="1.12"/><circle cx="549.13" cy="346.04" r="1.12"/><circle cx="549.13" cy="346.25" r="1.12"/><circle cx="549.13" cy="346.46" r="1.12"/><circle cx="549.13" cy="346.68" r="1.12"/><circle cx="549.13" cy="346.89" r="1.12"/><circle cx="549.13" cy="347.09" r="1.12"/><circle cx="549.13" cy="347.30" r="1.12"/><circle cx="549.13" cy="347.51" r="1.12"/><circle cx="549.13" cy="347.71" r="1.12"/><circle cx="549.13" cy="347.92" r="1.12"/><circle cx="549.13" cy="348.12" r="1.12"/><circle cx="549.13" cy="348.33" r="1.12"/><circle cx="549.13" cy="348.53" r="1.12"/><circle cx="549.13" cy="348.73" r="1.12"/><circle cx="554.98" cy="347.93" r="1.12"/><circle cx="554.98" cy="348.13" r="1.12"/><circle cx="554.98" cy="348.34" r="1.12"/><circle cx="554.98" cy="348.53" r="1.12"/><circle cx="554.98" cy="348.73" r="1.12"/><circle cx="554.98" cy="348.93" r="1.12"/><circle cx="554.98" cy="349.13" r="1.12"/>
</g>
<path d="M52.52 332.78 L58.88 328.98 L65.24 325.34 L71.60 321.84 L77.97 318.49 L84.33 315.28 L90.69 312.22 L97.05 309.31 L103.41 306.55 L109.77 303.93 L116.13 301.46 L122.49 299.13 L128.85 296.95 L135.21 294.93 L141.57 293.04 L147.93 291.31 L154.29 289.72 L160.65 288.28 L167.01 286.99 L173.37 285.84 L179.73 284.85 L186.09 284.11 L192.45 283.65 L198.81 283.43 L205.17 283.43 L211.53 283.63 L217.89 283.99 L224.25 284.49 L230.61 285.10 L236.97 285.80 L243.33 286.56 L249.69 287.35 L256.05 288.14 L262.41 288.92 L268.77 289.78 L275.13 290.72 L281.49 291.73 L287.85 292.80 L294.21 293.92 L300.57 295.08 L306.93 296.26 L313.29 297.45 L319.65 298.64 L326.01 299.82 L332.37 300.97 L338.73 302.08 L345.09 303.14 L351.45 304.14 L357.81 305.07 L364.17 305.95 L370.53 306.86 L376.89 307.80 L383.25 308.78 L389.61 309.79 L395.97 310.84 L402.33 311.92 L408.69 313.02 L415.05 314.09 L421.41 315.12 L427.77 316.15 L434.13 317.17 L440.49 318.20 L446.85 319.27 L453.21 320.37 L459.57 321.54 L465.93 322.78 L472.29 324.10 L478.65 325.52 L485.01 326.98 L491.37 328.46 L497.73 329.97 L504.09 331.54 L510.45 333.18 L516.81 334.88 L523.17 336.62 L529.53 338.41 L535.90 340.27 L542.26 342.22 L548.62 344.25 L554.98 346.33" stroke="#F25757" stroke-width="2.85" fill="none" stroke-linejoin="round"/>
<path d="M58.37 77.02 L64.65 83.03 L70.94 88.91 L77.23 94.65 L83.51 100.26 L89.80 105.73 L96.08 111.07 L102.37 116.28 L108.66 121.36 L114.94 126.30 L121.23 131.11 L127.51 135.80 L133.80 140.35 L140.09 144.78 L146.37 149.08 L152.66 153.26 L158.95 157.31 L165.23 161.23 L171.52 165.04 L177.80 168.72 L184.09 172.27 L190.38 175.71 L196.66 179.03 L202.95 182.23 L209.24 185.30 L215.52 188.27 L221.81 191.11 L228.09 193.84 L234.38 196.43 L240.67 198.75 L246.95 200.83 L253.24 202.68 L259.52 204.31 L265.81 205.76 L272.10 207.03 L278.38 208.16 L284.67 209.16 L290.96 210.05 L297.24 210.85 L303.53 211.59 L309.81 212.28 L316.10 212.95 L322.39 213.61 L328.67 214.29 L334.96 215.01 L341.25 215.78 L347.53 216.63 L353.82 217.58 L360.10 218.65 L366.39 219.85 L372.68 221.21 L378.96 222.57 L385.25 223.90 L391.53 225.24 L397.82 226.63 L404.11 228.12 L410.39 229.73 L416.68 231.51 L422.97 233.49 L429.25 235.73 L435.54 238.25 L441.82 241.10 L448.11 244.31 L454.40 247.93 L460.68 251.98 L466.97 256.42 L473.26 261.22 L479.54 266.40 L485.83 271.99 L492.11 278.00 L498.40 284.45 L504.69 291.35 L510.97 298.70 L517.26 306.46 L523.54 314.62 L529.83 323.18 L536.12 332.17 L542.40 341.60 L548.69 351.48 L554.98 361.77" stroke="#1AB3B8" stroke-width="2.85" fill="none" stroke-linejoin="round"/>
</g>
<path d="M52.52 437.75v3.67M47.5 433.53h-3.67M102.77 437.75v3.67M47.5 391.33h-3.67M153.01 437.75v3.67M47.5 349.13h-3.67M203.26 437.75v3.67M47.5 306.93h-3.67M253.50 437.75v3.67M47.5 264.73h-3.67M303.75 437.75v3.67M47.5 222.52h-3.67M354.00 437.75v3.67M47.5 180.32h-3.67M404.24 437.75v3.67M47.5 138.12h-3.67M454.49 437.75v3.67M47.5 95.92h-3.67M504.73 437.75v3.67M47.5 53.72h-3.67M554.98 437.75v3.67M47.5 11.52h-3.67" stroke="#333333" stroke-width="1.42" fill="none"/>
<g filter="url(#tf)" font-size="11.73px" fill="#4D4D4D">
<text x="52.52" y="452.8" text-anchor="middle">0.0</text>
<text x="40.3" y="437.33" text-anchor="end">0.0</text>
<text x="102.77" y="452.8" text-anchor="middle">0.1</text>
<text x="40.3" y="395.13" text-anchor="end">0.1</text>
<text x="153.01" y="452.8" text-anchor="middle">0.2</text>
<text x="40.3" y="352.93" text-anchor="end">0.2</text>
<text x="203.26" y="452.8" text-anchor="middle">0.3</text>
<text x="40.3" y="310.73" text-anchor="end">0.3</text>
<text x="253.50" y="452.8" text-anchor="middle">0.4</text>
<text x="40.3" y="268.53" text-anchor="end">0.4</text>
<text x="303.75" y="452.8" text-anchor="middle">0.5</text>
<text x="40.3" y="226.32" text-anchor="end">0.5</text>
<text x="354.00" y="452.8" text-anchor="middle">0.6</text>
<text x="40.3" y="184.12" text-anchor="end">0.6</text>
<text x="404.24" y="452.8" text-anchor="middle">0.7</text>
<text x="40.3" y="141.92" text-anchor="end">0.7</text>
<text x="454.49" y="452.8" text-anchor="middle">0.8</text>
<text x="40.3" y="99.72" text-anchor="end">0.8</text>
<text x="504.73" y="452.8" text-anchor="middle">0.9</text>
<text x="40.3" y="57.52" text-anchor="end">0.9</text>
<text x="554.98" y="452.8" text-anchor="middle">1.0</text>
<text x="40.3" y="15.32" text-anchor="end">1.0</text>
</g>
<g filter="url(#tf)" font-size="14.67px" fill="#000">
<text x="303.75" y="470" text-anchor="middle">Recall (Sensitivity)</text>
<text transform="translate(17.5,222.12) rotate(-90)" text-anchor="middle">Precision (PPV)</text>
<text x="582" y="201.6">Model</text>
</g>
<rect x="582.1" y="209.9" width="23.04" height="23.04" fill="#EEEEEE"/>
<rect x="582.1" y="232.94" width="23.04" height="23.04" fill="#EEEEEE"/>
<path d="M584.4 221.42H602.84" stroke="#F25757" stroke-width="2.85"/>
<path d="M584.4 244.46H602.84" stroke="#1AB3B8" stroke-width="2.85"/>
<g filter="url(#tf)" font-size="11.73px" fill="#000">
<text x="612.5" y="225.6">Baseline</text>
<text x="612.5" y="248.7">New</text>
</g>
</svg></body></html>
